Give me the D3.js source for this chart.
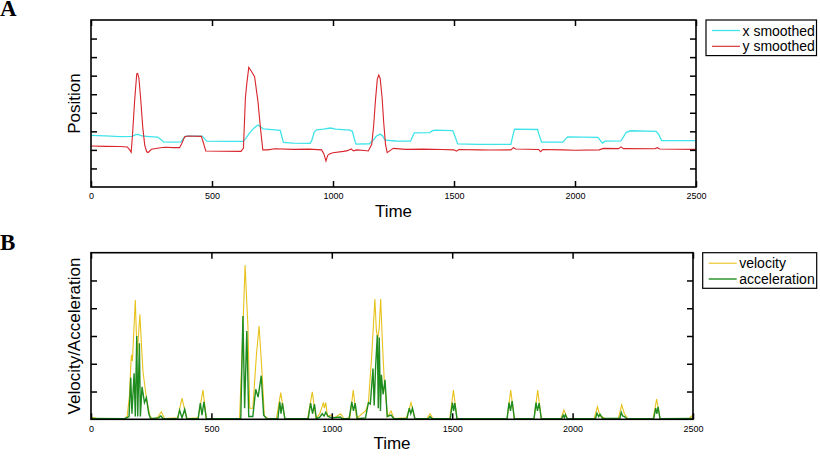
<!DOCTYPE html>
<html>
<head>
<meta charset="utf-8">
<script src="https://cdn.jsdelivr.net/npm/d3@7/dist/d3.min.js"></script>
<style>
  body { margin: 0; background: #fff; }
  svg { font-family: "Liberation Sans", Arial, Helvetica, sans-serif; }
  .tick text { font-size: 9px; }
  .axis-text { font-size: 17px; }
  .legend-text { font-size: 14px; }
  .panel-label { font-family: "Liberation Serif", "Times New Roman", serif; font-weight: bold; font-size: 23px; }
</style>
</head>
<body>
<div class="chart"></div>
<script>
// chart values: [time, value]
var timeTicks = [0, 500, 1000, 1500, 2000, 2500];
var positionTicks = [1, 2, 3, 4, 5, 6, 7, 8];
var motionTicks = [1, 2, 3, 4, 5];

var xSmoothed = [[0,2.78],[60,2.75],[120,2.72],[170,2.73],[185,2.82],[195,2.84],[210,2.75],[240,2.72],[275,2.69],[290,2.55],[300,2.43],[340,2.42],[372,2.43],[382,2.62],[392,2.74],[460,2.74],[468,2.62],[478,2.47],[560,2.46],[628,2.46],[640,2.62],[655,2.9],[675,3.2],[690,3.34],[700,3.25],[712,3.13],[760,3.08],[782,3.05],[788,2.75],[795,2.4],[835,2.36],[905,2.35],[912,2.5],[922,2.95],[932,3.08],[960,3.12],[990,3.18],[1010,3.12],[1070,3.06],[1080,3.0],[1088,2.6],[1095,2.31],[1150,2.33],[1165,2.5],[1180,2.75],[1195,2.85],[1205,2.75],[1215,2.53],[1260,2.48],[1320,2.47],[1328,2.7],[1336,2.92],[1400,2.93],[1410,3.02],[1420,3.06],[1495,3.04],[1505,2.7],[1515,2.32],[1600,2.3],[1735,2.3],[1742,2.7],[1750,3.12],[1845,3.1],[1852,2.8],[1862,2.42],[1950,2.42],[1960,2.58],[1970,2.7],[2095,2.67],[2105,2.5],[2113,2.37],[2125,2.47],[2190,2.49],[2200,2.7],[2212,2.95],[2230,3.03],[2335,3.0],[2345,2.85],[2358,2.5],[2420,2.5],[2500,2.5]];

var ySmoothed = [[0,2.21],[60,2.19],[120,2.18],[150,2.16],[160,2.0],[166,1.87],[172,2.9],[180,4.6],[189,6.1],[193,6.12],[198,5.86],[205,4.8],[214,3.2],[222,2.26],[230,1.9],[236,1.86],[250,2.03],[280,2.1],[305,2.14],[340,2.12],[366,2.12],[375,2.35],[387,2.71],[401,2.75],[456,2.73],[464,2.4],[474,1.94],[540,1.93],[620,1.92],[630,2.1],[638,4.8],[644,5.6],[652,6.45],[662,6.25],[676,5.95],[690,4.6],[700,3.2],[710,2.0],[730,2.0],[760,2.06],[835,2.03],[900,2.04],[953,2.0],[962,1.8],[971,1.4],[978,1.7],[985,1.78],[1000,1.85],[1043,1.92],[1060,1.96],[1075,2.05],[1085,1.95],[1098,2.0],[1130,1.97],[1146,1.94],[1160,2.3],[1168,3.3],[1175,4.6],[1183,5.8],[1189,6.03],[1195,5.85],[1203,4.8],[1210,3.4],[1217,2.3],[1224,1.85],[1240,2.0],[1249,2.08],[1300,2.03],[1373,2.04],[1450,2.02],[1500,2.0],[1510,1.93],[1520,2.02],[1600,2.0],[1650,1.99],[1735,2.0],[1745,2.12],[1755,2.05],[1850,2.02],[1858,1.9],[1866,2.02],[1950,2.0],[2000,1.98],[2100,2.0],[2117,2.08],[2180,2.07],[2190,2.16],[2200,2.07],[2330,2.06],[2340,2.12],[2350,2.05],[2500,2.03]];

var velocity = [[0,0.08],[15,0.05],[30,0.02],[80,0.02],[140,0.03],[150,0.1],[160,0.87],[165,1.9],[168,2.32],[172,2.1],[178,3.2],[184,4.3],[188,3.2],[192,2.3],[197,3.0],[203,3.78],[210,2.6],[216,1.71],[230,0.76],[245,0.1],[255,0.02],[275,0.05],[292,0.27],[305,0.03],[360,0.05],[378,0.76],[397,0.03],[445,0.05],[465,1.05],[479,0.03],[617,0.03],[627,2.32],[640,5.56],[647,4.2],[652,3.28],[659,0.4],[672,0.4],[687,2.32],[698,3.36],[710,1.71],[720,0.12],[735,0.02],[770,0.03],[788,0.96],[805,0.02],[900,0.03],[919,0.99],[934,0.03],[950,0.2],[958,0.4],[965,0.61],[969,0.4],[975,0.6],[982,0.1],[995,0.15],[1010,0.05],[1037,0.2],[1050,0.02],[1075,0.05],[1089,1.05],[1103,0.03],[1140,0.3],[1152,0.58],[1165,2.2],[1179,4.33],[1185,3.2],[1191,2.9],[1197,3.3],[1203,4.33],[1210,2.8],[1218,1.36],[1232,0.1],[1246,0.3],[1258,0.03],[1310,0.05],[1329,0.6],[1345,0.03],[1395,0.03],[1408,0.2],[1420,0.02],[1490,0.03],[1505,1.05],[1520,0.03],[1728,0.03],[1743,1.05],[1758,0.03],[1840,0.03],[1855,1.05],[1870,0.03],[1952,0.03],[1964,0.33],[1978,0.03],[2090,0.03],[2103,0.45],[2115,0.1],[2125,0.08],[2135,0.02],[2190,0.03],[2204,0.52],[2215,0.2],[2230,0.02],[2335,0.03],[2349,0.73],[2363,0.03],[2485,0.03],[2494,0.12],[2500,0.05]];

var acceleration = [[0,0.03],[140,0.02],[158,0.1],[165,1.5],[170,0.2],[179,1.66],[184,0.1],[190,3.0],[194,0.1],[201,2.74],[205,0.1],[212,1.17],[222,0.6],[230,0.78],[240,0.2],[248,0.02],[280,0.05],[290,0.12],[300,0.02],[360,0.03],[368,0.33],[378,0.05],[389,0.36],[398,0.02],[445,0.03],[454,0.58],[461,0.15],[469,0.63],[479,0.02],[622,0.02],[631,3.72],[638,0.4],[647,3.18],[655,0.1],[672,0.1],[684,1.08],[694,0.8],[707,1.57],[717,0.15],[730,0.02],[776,0.03],[784,0.63],[789,0.2],[795,0.58],[805,0.02],[902,0.03],[912,0.58],[920,0.2],[928,0.55],[936,0.02],[950,0.08],[960,0.2],[968,0.12],[975,0.25],[985,0.1],[1000,0.05],[1035,0.08],[1045,0.02],[1072,0.03],[1083,0.63],[1090,0.3],[1097,0.58],[1106,0.02],[1140,0.05],[1152,0.6],[1160,0.55],[1171,1.83],[1176,0.5],[1182,1.9],[1189,3.03],[1193,0.4],[1197,2.95],[1202,0.3],[1206,1.6],[1213,0.9],[1221,1.42],[1230,0.1],[1246,0.15],[1258,0.02],[1312,0.03],[1322,0.4],[1328,0.2],[1335,0.4],[1345,0.02],[1402,0.03],[1408,0.1],[1416,0.02],[1492,0.03],[1501,0.6],[1506,0.3],[1511,0.58],[1520,0.02],[1728,0.03],[1736,0.6],[1742,0.3],[1749,0.66],[1758,0.02],[1840,0.03],[1848,0.6],[1854,0.3],[1861,0.58],[1870,0.02],[1955,0.03],[1961,0.15],[1966,0.06],[1970,0.17],[1978,0.02],[2095,0.03],[2101,0.22],[2108,0.1],[2114,0.18],[2125,0.03],[2196,0.03],[2202,0.25],[2208,0.12],[2216,0.1],[2225,0.02],[2337,0.03],[2345,0.4],[2350,0.2],[2355,0.45],[2363,0.02],[2500,0.03]];

var svg = d3.select(".chart")
  .append("svg")
  .attr("width", 820)
  .attr("height", 456);

// one framed panel with inward ticks on all four sides
function drawPanel(opts) {
  var g = svg.append("g")
    .attr("transform", "translate(" + opts.left + "," + opts.top + ")");

  var x = d3.scaleLinear().domain([0, 2500]).range([0, opts.width]);
  var y = d3.scaleLinear().domain(opts.yDomain).range([opts.height, 0]);

  g.append("clipPath").attr("id", opts.id + "-clip")
    .append("rect").attr("width", opts.width).attr("height", opts.height);

  var line = d3.line()
    .x(function(d) { return x(d[0]); })
    .y(function(d) { return y(d[1]); });

  opts.series.forEach(function(s) {
    g.append("path")
      .datum(s.data)
      .attr("clip-path", "url(#" + opts.id + "-clip)")
      .attr("fill", "none")
      .attr("stroke", s.color)
      .attr("stroke-width", s.width)
      .attr("d", line);
  });

  g.append("g")
    .attr("transform", "translate(0," + opts.height + ")")
    .call(d3.axisBottom(x).tickValues(timeTicks).tickSize(-6).tickPadding(6).tickFormat(d3.format("d")));
  g.append("g")
    .call(d3.axisTop(x).tickValues(timeTicks).tickSize(-6).tickFormat(""));
  g.append("g")
    .call(d3.axisLeft(y).tickValues(opts.yTicks).tickSize(-6).tickFormat(""));
  g.append("g")
    .attr("transform", "translate(" + opts.width + ",0)")
    .call(d3.axisRight(y).tickValues(opts.yTicks).tickSize(-6).tickFormat(""));

  g.selectAll(".domain").remove();
  g.selectAll(".tick line").attr("stroke", "#000").attr("stroke-width", 1.5);
  g.selectAll(".tick text").attr("fill", "#000");

  g.append("rect")
    .attr("width", opts.width)
    .attr("height", opts.height)
    .attr("fill", "none")
    .attr("stroke", "#000")
    .attr("stroke-width", 1.6);

  // x label
  g.append("text")
    .attr("class", "axis-text")
    .attr("text-anchor", "middle")
    .attr("x", opts.width / 2)
    .attr("y", opts.height + 30)
    .text("Time");

  // y label
  g.append("text")
    .attr("class", "axis-text")
    .attr("text-anchor", "middle")
    .attr("transform", "translate(" + (80 - opts.left) + "," + (opts.height / 2) + ") rotate(-90)")
    .text(opts.yLabel);

  // legend
  var leg = svg.append("g")
    .attr("transform", "translate(" + opts.legend.x + "," + opts.legend.y + ")");
  leg.append("rect")
    .attr("width", opts.legend.w)
    .attr("height", 35.6)
    .attr("fill", "#fff")
    .attr("stroke", "#000")
    .attr("stroke-width", 1.2);
  opts.series.forEach(function(s, i) {
    var cy = 10.5 + i * 15.8;
    leg.append("line")
      .attr("x1", 6).attr("x2", 34)
      .attr("y1", cy).attr("y2", cy)
      .attr("stroke", s.color)
      .attr("stroke-width", s.width);
    leg.append("text")
      .attr("class", "legend-text")
      .attr("x", 36.5)
      .attr("y", cy + 5)
      .text(s.name);
  });

  svg.append("text")
    .attr("class", "panel-label")
    .attr("x", 0)
    .attr("y", opts.labelY)
    .text(opts.label);
}

drawPanel({
  id: "a", label: "A", labelY: 15.5,
  left: 91, top: 20, width: 605, height: 167,
  yDomain: [0, 9], yTicks: positionTicks, yLabel: "Position",
  legend: { x: 706, y: 20, w: 110.5 },
  series: [
    { name: "x smoothed", data: xSmoothed, color: "#3fe3ea", width: 1.3 },
    { name: "y smoothed", data: ySmoothed, color: "#d8242a", width: 1.1 }
  ]
});

drawPanel({
  id: "b", label: "B", labelY: 250,
  left: 91, top: 252.7, width: 602, height: 166.6,
  yDomain: [0, 6], yTicks: motionTicks, yLabel: "Velocity/Acceleration",
  legend: { x: 702.7, y: 252.7, w: 114 },
  series: [
    { name: "velocity", data: velocity, color: "#e8c21c", width: 1.1 },
    { name: "acceleration", data: acceleration, color: "#1f8c1f", width: 1.4 }
  ]
});
</script>
</body>
</html>
